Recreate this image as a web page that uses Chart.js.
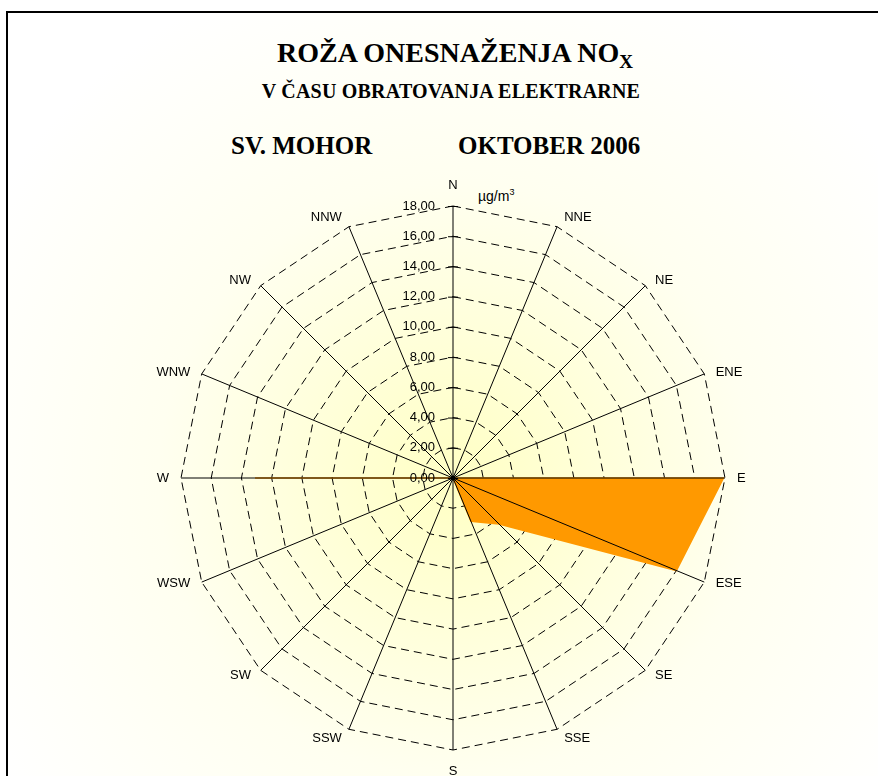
<!DOCTYPE html>
<html>
<head>
<meta charset="utf-8">
<script src="https://cdn.jsdelivr.net/npm/chart.js@4.4.1/dist/chart.umd.min.js"></script>
<style>
  html, body { margin: 0; padding: 0; width: 878px; height: 776px; overflow: hidden; background: #fff; }
  #frame {
    position: absolute; left: 6px; top: 11px; width: 1000px; height: 900px;
    border-top: 2px solid #000; border-left: 2px solid #000;
    background: radial-gradient(circle 540px at 447px 467px, #ffffc4 0%, #fffff0 55%, #ffffff 100%);
  }
  .t { position: absolute; font-family: "Liberation Serif", "Times New Roman", serif; font-weight: bold; color: #000; line-height: 1; white-space: nowrap; }
  #title { left: 0; width: 910px; text-align: center; top: 39px; font-size: 28px; }
  #title sub { font-size: 19px; vertical-align: -6px; line-height: 0; }
  #subtitle { left: 0; width: 902px; text-align: center; top: 81px; font-size: 20px; letter-spacing: 0.2px; }
  #station { left: 231px; top: 133px; font-size: 25px; }
  #month { left: 458px; top: 133px; font-size: 25px; }
  #unit { position: absolute; left: 478px; top: 189px; font: 14px "Liberation Sans", Arial, sans-serif; line-height: 1; }
  #unit sup { font-size: 9px; vertical-align: 6px; line-height: 0; }
  canvas { position: absolute; left: 0; top: 0; }
</style>
</head>
<body>
<div id="frame"></div>
<div class="t" id="title">ROŽA ONESNAŽENJA NO<sub>X</sub></div>
<div class="t" id="subtitle">V ČASU OBRATOVANJA ELEKTRARNE</div>
<div class="t" id="station">SV. MOHOR</div>
<div class="t" id="month">OKTOBER 2006</div>
<div id="unit">µg/m<sup>3</sup></div>
<canvas id="rose" width="878" height="776"></canvas>
<script>
'use strict';

const DIRECTIONS = ['N', 'NNE', 'NE', 'ENE', 'E', 'ESE', 'SE', 'SSE', 'S', 'SSW', 'SW', 'WSW', 'W', 'WNW', 'NW', 'NNW'];
const NOX_VALUES = [0, 0, 0, 0, 17.9, 16.0, 4.3, 3.1, 0, 0, 0, 0, 13.1, 0, 0, 0];
const SCALE_MIN = 0;
const SCALE_MAX = 18;
const SCALE_STEP = 2;

const LABEL_FONT = '13px "Liberation Sans", Arial, sans-serif';
const formatTick = value => value.toFixed(2).replace('.', ',');

// spokes, N-axis ticks and direction labels drawn over the filled area
const spokesPlugin = {
  id: 'spokes',
  afterDatasetsDraw(chart) {
    const scale = chart.scales.r;
    const { ctx } = chart;
    const cx = scale.xCenter;
    const cy = scale.yCenter;
    ctx.save();
    ctx.strokeStyle = '#000';
    ctx.fillStyle = '#000';
    ctx.lineWidth = 1;
    DIRECTIONS.forEach((_d, i) => {
      const p = scale.getPointPositionForValue(i, SCALE_MAX);
      ctx.beginPath();
      ctx.moveTo(cx, cy);
      ctx.lineTo(p.x, p.y);
      ctx.stroke();
    });
    ctx.beginPath();
    ctx.arc(cx, cy, 2.5, 0, Math.PI * 2);
    ctx.fill();

    ctx.font = LABEL_FONT;
    ctx.textAlign = 'right';
    ctx.textBaseline = 'middle';
    scale.ticks.forEach(tick => {
      const y = cy - scale.getDistanceFromCenterForValue(tick.value);
      ctx.beginPath();
      ctx.moveTo(cx - 5, y + 0.5);
      ctx.lineTo(cx + 5, y + 0.5);
      ctx.stroke();
      ctx.fillText(formatTick(tick.value), cx - 18, y);
    });

    // direction names, placed like the spreadsheet does: beside the spoke ends
    DIRECTIONS.forEach((name, i) => {
      const p = scale.getPointPositionForValue(i, SCALE_MAX);
      const angle = scale.getIndexAngle(i);
      const sin = Math.sin(angle);
      const cos = Math.cos(angle);
      if (Math.abs(sin) < 0.01) {
        ctx.textAlign = 'center';
        ctx.fillText(name, p.x, p.y - 21 * Math.sign(cos));
        return;
      }
      const gap = 4 + 8 * Math.abs(sin);
      ctx.textAlign = sin > 0 ? 'left' : 'right';
      ctx.fillText(name, p.x + gap * Math.sign(sin), p.y - 11 * cos * Math.abs(cos));
    });
    ctx.restore();
  },
};

new Chart(document.getElementById('rose'), {
  type: 'radar',
  data: {
    labels: DIRECTIONS,
    datasets: [{
      label: 'NOx',
      data: NOX_VALUES,
      backgroundColor: '#ff9900',
      borderColor: '#ff9900',
      borderWidth: 1.5,
      pointRadius: 0,
      fill: true,
      tension: 0,
    }],
  },
  options: {
    responsive: false,
    animation: false,
    events: [],
    layout: { padding: { left: 181, right: 152, top: 206, bottom: 25 } },
    plugins: { legend: { display: false }, tooltip: { enabled: false } },
    scales: {
      r: {
        min: SCALE_MIN,
        max: SCALE_MAX,
        ticks: { stepSize: SCALE_STEP, display: false },
        angleLines: { display: false },
        grid: { color: '#000', lineWidth: 1 },
        border: { dash: [8, 5] },
        pointLabels: { display: false },
      },
    },
  },
  plugins: [spokesPlugin],
});
</script>
</body>
</html>
